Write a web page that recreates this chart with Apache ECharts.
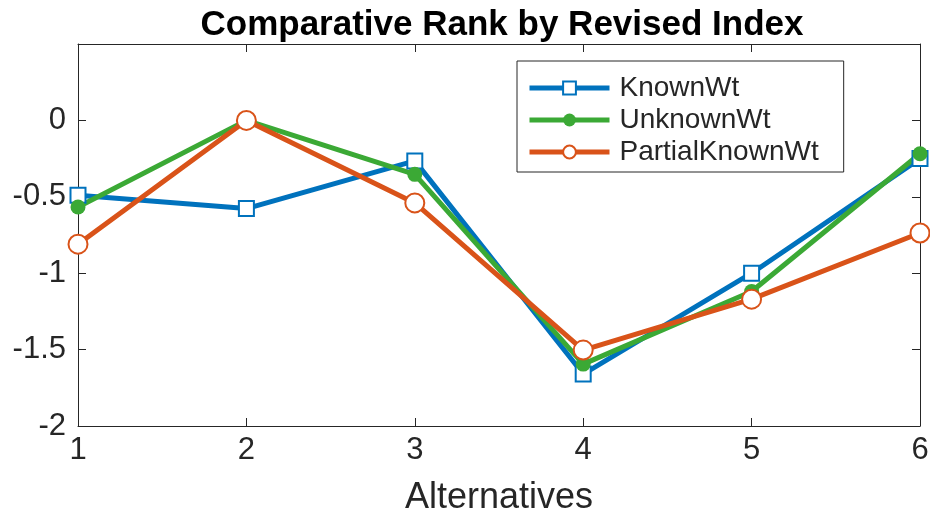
<html>

<head>
    <meta charset="UTF-8">
    <title>Comparative Rank by Revised Index</title>
    <script src="https://cdn.jsdelivr.net/npm/echarts@6/dist/echarts.min.js"></script>
</head>

<body style="margin:0">
    <div id="container" style="width: 930px;height:515px;"></div>

<script>
    var alternatives = [1, 2, 3, 4, 5, 6];
    var knownWt = [-0.49, -0.577, -0.265, -1.66, -1.0, -0.25];
    var unknownWt = [-0.567, 0, -0.353, -1.595, -1.12, -0.218];
    var partialKnownWt = [-0.81, 0, -0.54, -1.503, -1.17, -0.737];

    var font = 'Liberation Sans, Arial, Helvetica, sans-serif';
    var axisColor = '#262626';

    function pairs(vals) {
        var out = [];
        for (var i = 0; i < alternatives.length; i++) {
            out.push([alternatives[i], vals[i]]);
        }
        return out;
    }

    var mycharts = echarts.init(document.getElementById('container'));

    var option = {
        animation: false,
        backgroundColor: '#fff',
        title: {
            text: 'Comparative Rank by Revised Index',
            left: 497,
            textAlign: 'center',
            top: 3,
            textStyle: { fontFamily: font, fontSize: 35, fontWeight: 'bold', color: '#000' }
        },
        legend: {
            orient: 'vertical',
            left: 517,
            top: 61,
            padding: [13, 25, 6, 10],
            itemGap: 4,
            itemWidth: 80,
            itemHeight: 16,
            borderColor: axisColor,
            borderWidth: 1,
            backgroundColor: '#fff',
            lineStyle: { width: 5 },
            itemStyle: { borderWidth: 3 },
            textStyle: { fontFamily: font, fontSize: 28, color: axisColor, padding: [0, 0, 0, 5] },
            data: ['KnownWt', 'UnknownWt', 'PartialKnownWt']
        },
        grid: { left: 78, right: 10, top: 44, bottom: 89, outerBoundsMode: 'none', containLabel: false },
        xAxis: [{
            type: 'value',
            min: 1,
            max: 6,
            interval: 1,
            name: 'Alternatives',
            nameLocation: 'middle',
            nameGap: 54,
            nameTextStyle: { fontFamily: font, fontSize: 36, color: axisColor },
            axisLine: { onZero: false, lineStyle: { color: axisColor, width: 1 } },
            axisTick: { inside: true, length: 8, lineStyle: { color: axisColor } },
            axisLabel: { fontFamily: font, fontSize: 31, color: axisColor, margin: 9 },
            splitLine: { show: false }
        }, {
            type: 'value',
            position: 'top',
            min: 1,
            max: 6,
            interval: 1,
            axisLine: { onZero: false, lineStyle: { color: axisColor, width: 1 } },
            axisTick: { inside: true, length: 8, lineStyle: { color: axisColor } },
            axisLabel: { show: false },
            splitLine: { show: false }
        }],
        yAxis: [{
            type: 'value',
            min: -2,
            max: 0.5,
            interval: 0.5,
            axisLine: { show: true, onZero: false, lineStyle: { color: axisColor, width: 1 } },
            axisTick: { show: true, inside: true, length: 8, lineStyle: { color: axisColor } },
            axisLabel: {
                fontFamily: font, fontSize: 31, color: axisColor, margin: 12,
                formatter: function (v) { return v > 0 ? '' : String(v); }
            },
            splitLine: { show: false }
        }, {
            type: 'value',
            position: 'right',
            min: -2,
            max: 0.5,
            interval: 0.5,
            axisLine: { show: true, onZero: false, lineStyle: { color: axisColor, width: 1 } },
            axisTick: { show: true, inside: true, length: 8, lineStyle: { color: axisColor } },
            axisLabel: { show: false },
            splitLine: { show: false }
        }],
        series: [{
            name: 'KnownWt',
            type: 'line',
            data: pairs(knownWt),
            symbol: 'emptyRect',
            symbolSize: 15,
            color: '#0072BD',
            lineStyle: { width: 5, color: '#0072BD' },
            itemStyle: { color: '#0072BD', borderColor: '#0072BD', borderWidth: 3 }
        }, {
            name: 'UnknownWt',
            type: 'line',
            data: pairs(unknownWt),
            symbol: 'circle',
            symbolSize: 15,
            color: '#3BA935',
            lineStyle: { width: 5, color: '#3BA935' },
            itemStyle: { color: '#3BA935' }
        }, {
            name: 'PartialKnownWt',
            type: 'line',
            data: pairs(partialKnownWt),
            symbol: 'emptyCircle',
            symbolSize: 19,
            color: '#D95319',
            lineStyle: { width: 5, color: '#D95319' },
            itemStyle: { color: '#D95319', borderColor: '#D95319', borderWidth: 4 }
        }]
    };

    mycharts.setOption(option);
</script>
</body>

</html>
